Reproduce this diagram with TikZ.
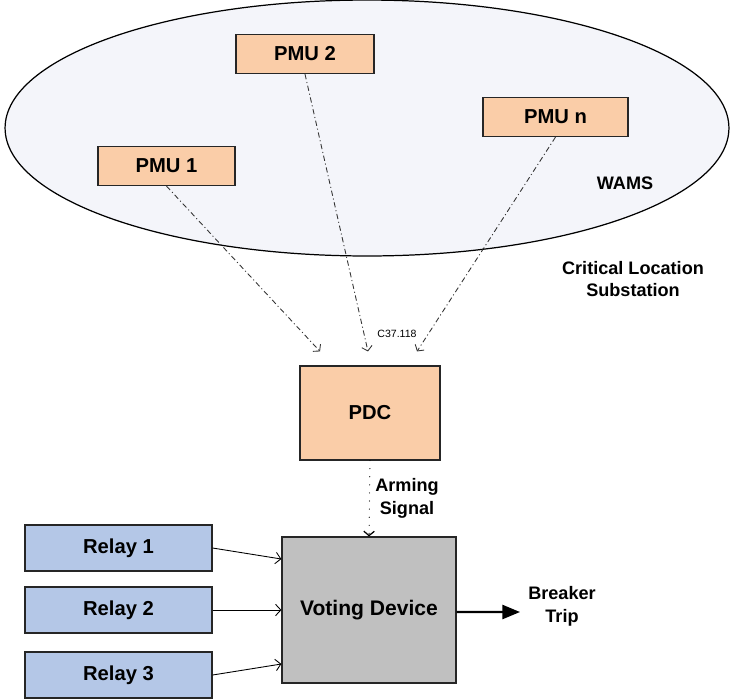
\documentclass[tikz,border=0pt]{standalone}
\usepackage{fontspec}
\setmainfont{Liberation Sans}
\usetikzlibrary{arrows.meta}

\definecolor{pmufill}{RGB}{250,205,168}
\definecolor{relayfill}{RGB}{180,199,231}
\definecolor{votefill}{RGB}{192,192,192}
\definecolor{wamsfill}{RGB}{244,245,250}

\begin{document}
\begin{tikzpicture}[x=0.02cm,y=-0.02cm,
    box/.style={draw=black!85,line width=0.7pt,inner sep=0pt,
      font=\fontsize{11.5}{13.8}\selectfont\bfseries},
    pmubox/.style={box,fill=pmufill,minimum height=0.78cm},
    relaybox/.style={box,fill=relayfill,minimum width=3.74cm,minimum height=0.92cm},
    lbl/.style={align=center,font=\fontsize{10.3}{13}\selectfont\bfseries},
    link/.style={black!80,line width=0.5pt,dash pattern=on 3pt off 1.6pt on 0.6pt off 1.6pt,
      -{Straight Barb[length=2.5pt,width=6pt]}},
    feed/.style={black,line width=0.5pt,-{Straight Barb[length=3pt,width=6.5pt]}}]
    \useasboundingbox (0,0) rectangle (730,698);

    \filldraw[fill=wamsfill,draw=black,line width=0.7pt]
      (367,128) ellipse [x radius=7.24cm, y radius=2.56cm];

    \node[pmubox,minimum width=2.76cm] (pmu2) at (305,54) {PMU 2};
    \node[pmubox,minimum width=2.74cm] (pmu1) at (166.5,166) {PMU 1};
    \node[pmubox,minimum width=2.9cm] (pmun) at (555.5,117) {PMU n};
    \node[lbl] (wams) at (625,183) {WAMS};
    \node[lbl] (site) at (633,279) {Critical Location\\Substation};

    \node[box,fill=pmufill,minimum width=2.8cm,minimum height=1.88cm] (pdc) at (370,413) {PDC};
    \node[font=\fontsize{6}{7}\selectfont] (proto) at (397,334) {C37.118};

    % measurements sent to the PDC
    \coordinate (in1) at ([xshift=-1cm,yshift=0.28cm]pdc.north);
    \coordinate (in2) at ([xshift=-0.04cm,yshift=0.28cm]pdc.north);
    \coordinate (in3) at ([xshift=0.94cm,yshift=0.28cm]pdc.north);
    \draw[link] (pmu1.south) -- (in1);
    \draw[link] (pmu2.south) -- (in2);
    \draw[link] (pmun.south) -- (in3);

    \node[box,fill=votefill,minimum width=3.48cm,minimum height=2.92cm,
      font=\fontsize{12}{14}\selectfont\bfseries] (vote) at (369,610) {Voting Device};
    \draw[black,line width=0.7pt,line cap=round,dash pattern=on 0pt off 4.6pt,
      -{Straight Barb[length=2.5pt,width=6pt]}]
      (pdc.south) -- (vote.north);
    \node[lbl] (arm) at (407,498) {Arming\\Signal};

    \node[relaybox] (relay1) at (118.5,548) {Relay 1};
    \node[relaybox] (relay2) at (118.5,610) {Relay 2};
    \node[relaybox] (relay3) at (118.5,675) {Relay 3};
    \draw[feed] (relay1.east) -- ([yshift=1.02cm]vote.west);
    \draw[feed] (relay2.east) -- (vote.west);
    \draw[feed] (relay3.east) -- ([yshift=-1.08cm]vote.west);

    \coordinate (trip) at (520,612);
    \draw[black,line width=1.2pt,-{Triangle[length=10pt,width=8pt]}]
      ([yshift=-0.04cm]vote.east) -- (trip);
    \node[lbl] (brk) at (562,606) {Breaker\\Trip};
\end{tikzpicture}
\end{document}
